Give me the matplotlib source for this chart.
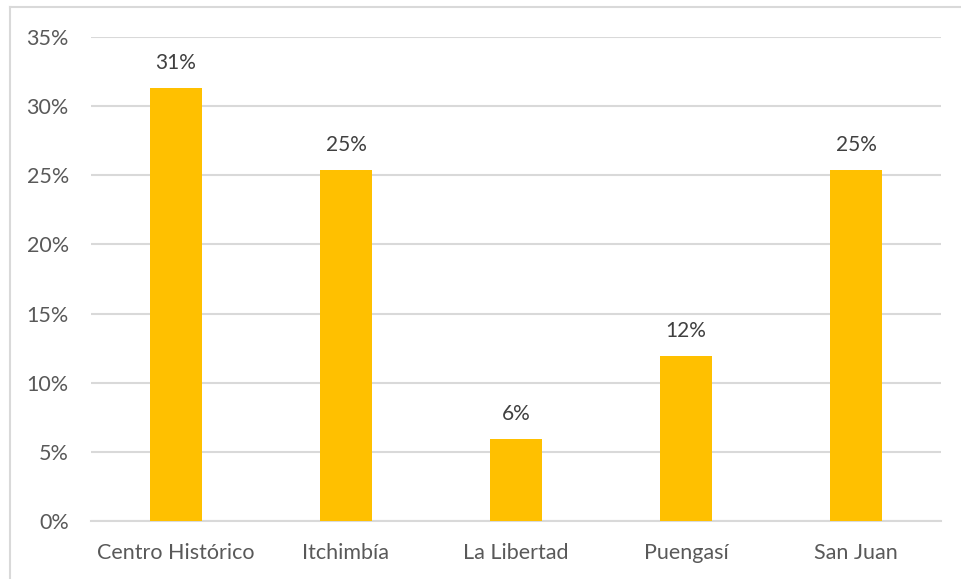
import matplotlib.pyplot as plt
from matplotlib.lines import Line2D

categories = ["Centro Histórico", "Itchimbía", "La Libertad", "Puengasí", "San Juan"]
values = [31.3, 25.4, 5.95, 11.9, 25.4]
labels = ["31%", "25%", "6%", "12%", "25%"]
yticks = [0, 5, 10, 15, 20, 25, 30, 35]

plt.rcParams['font.family'] = ['Lato', 'DejaVu Sans']
txt = "#595959"

fig = plt.figure(figsize=(9.61, 5.79), dpi=100)
ax = fig.add_axes([91/961, 1-521/579, 850/961, (521-37)/579])

x = range(len(categories))
bars = ax.bar(x, values, width=0.306, color="#FFC000", zorder=3)
for b, lab in zip(bars, labels):
    ax.text(b.get_x() + b.get_width()/2, b.get_height() + 1.1, lab,
            ha="center", va="bottom", fontsize=15, color="#404040")

ax.set_xlim(-0.5, len(categories) - 0.5)
ax.set_ylim(0, 35)
ax.set_yticks(yticks)
ax.set_yticklabels(["{}%".format(t) for t in yticks])
ax.set_xticks(list(x))
ax.set_xticklabels(categories)
ax.tick_params(axis="both", length=0, labelsize=15.5, labelcolor=txt)
ax.tick_params(axis="y", pad=16)
ax.tick_params(axis="x", pad=16)
ax.grid(axis="y", color="#D9D9D9", linewidth=1.5, zorder=0)
for s in ["top", "right", "left"]:
    ax.spines[s].set_visible(False)
ax.spines["bottom"].set_color("#D9D9D9")
ax.spines["bottom"].set_linewidth(1.5)

# outer chart border (left and top visible)
fig.add_artist(Line2D([10/961, 10/961], [0, 1-7/579], color="#D9D9D9", lw=1.5))
fig.add_artist(Line2D([10/961, 1], [1-7/579, 1-7/579], color="#D9D9D9", lw=1.5))

fig.savefig("out.png", dpi=100)
